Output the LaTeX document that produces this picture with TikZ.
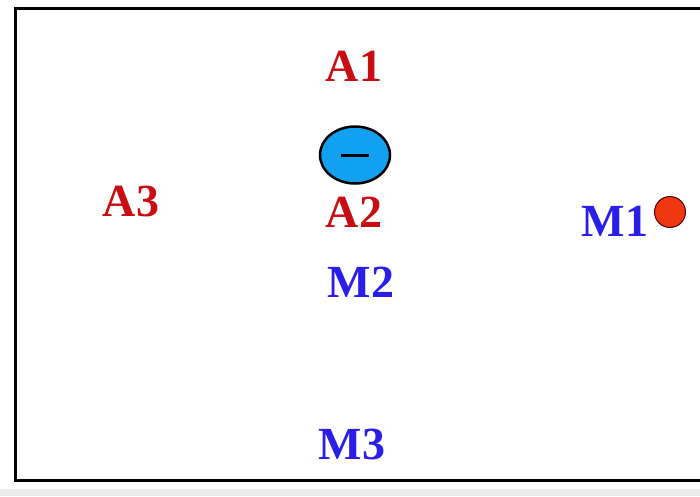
\documentclass[tikz,border=0pt]{standalone}
\usepackage{fontspec}
\setmainfont{Liberation Serif}
\usepackage{tikz}
\usetikzlibrary{positioning,shapes.geometric}
\definecolor{achg}{RGB}{200,14,18}
\definecolor{mchg}{RGB}{42,30,232}
\definecolor{ionblue}{RGB}{18,160,240}
\definecolor{dotred}{RGB}{240,56,16}
\tikzset{x=1pt,y=-1pt,
         lbl/.style={inner sep=0pt,font=\fontsize{46}{52}\selectfont\bfseries},
         alabel/.style={lbl,text=achg},
         mlabel/.style={lbl,text=mchg}}
\begin{document}
\begin{tikzpicture}
  \useasboundingbox (0,0) rectangle (700,496);
  % frame of the field
  \fill[black!8] (0,489) rectangle (700,496);
  \draw[line width=3pt] (720,8) -- (15,8) -- (15,480) -- (720,480);
  % charges
  \node (ion) [ellipse,draw,line width=2.5pt,fill=ionblue,minimum width=70pt,
    minimum height=57pt,inner sep=0pt] at (355,155) {};
  \draw[line width=3pt] ([xshift=-14pt]ion.center) -- ([xshift=14pt]ion.center);
  \node (dot) [circle,draw=black!70!red,line width=1pt,fill=dotred,
    minimum size=31pt,inner sep=0pt] at (670,212) {};
  % labels
  \node (A1) [alabel] at (354,66) {A1};
  \node (A2) [alabel] at (354,212) {A2};
  \node (A3) [alabel] at (131,201) {A3};
  \node (M1) [mlabel] at (615,221) {M1};
  \node (M2) [mlabel] at (361,282) {M2};
  \node (M3) [mlabel] at (352,444) {M3};
\end{tikzpicture}
\end{document}
